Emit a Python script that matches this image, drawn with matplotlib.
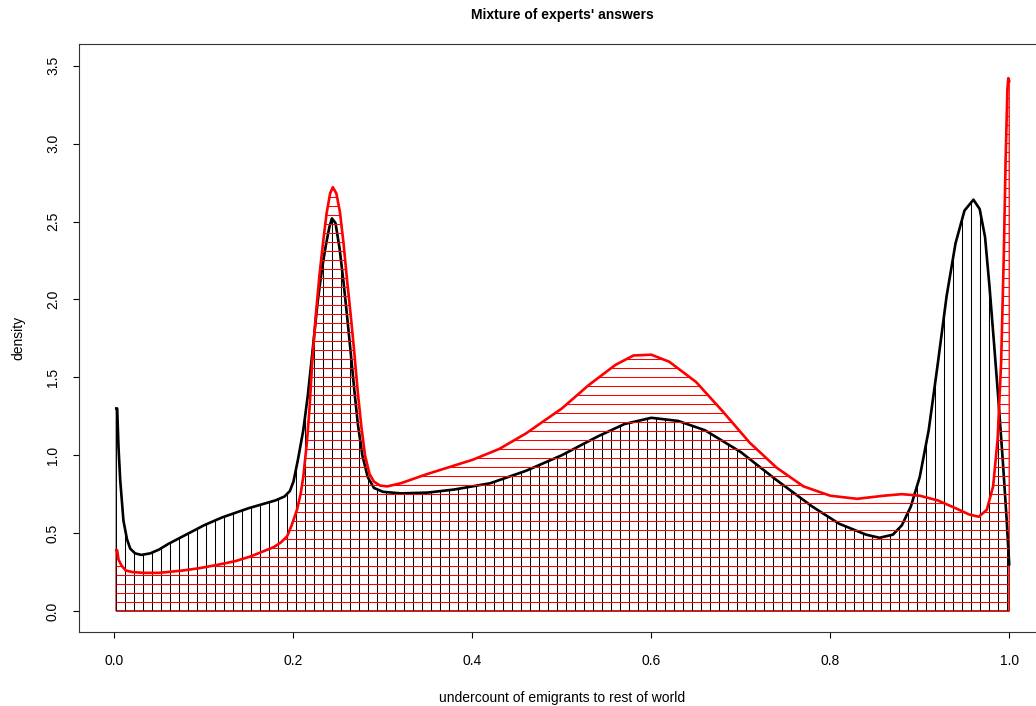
# Mixture of experts' answers - hatched density curves
import numpy as np
import matplotlib
matplotlib.use('Agg')
import matplotlib.pyplot as plt
from matplotlib.patches import Polygon

plt.rcParams['font.family'] = ['Liberation Sans', 'DejaVu Sans']

# black curve (mixture density)
black_x = [0.002, 0.003, 0.0045, 0.0064, 0.01, 0.014, 0.0176, 0.023, 0.03, 0.04, 0.05,
           0.06, 0.08, 0.1, 0.12, 0.135, 0.15, 0.165, 0.18, 0.19, 0.196, 0.2, 0.205,
           0.211, 0.216, 0.221, 0.227, 0.232, 0.236, 0.24, 0.243, 0.247, 0.2515,
           0.256, 0.26, 0.264, 0.268, 0.272, 0.277, 0.283, 0.29, 0.3, 0.32, 0.35,
           0.38, 0.42, 0.46, 0.5, 0.54, 0.57, 0.6, 0.63, 0.66, 0.7, 0.74, 0.78,
           0.81, 0.84, 0.855, 0.87, 0.88, 0.89, 0.9, 0.91, 0.92, 0.93, 0.94, 0.95,
           0.96, 0.967, 0.973, 0.978, 0.983, 0.988, 0.993, 0.997, 1.0]
black_y = [1.30, 1.30, 1.05, 0.84, 0.58, 0.46, 0.40, 0.37, 0.36, 0.37, 0.395,
           0.43, 0.49, 0.55, 0.60, 0.63, 0.66, 0.685, 0.71, 0.735, 0.77, 0.83, 0.97,
           1.16, 1.38, 1.65, 1.98, 2.20, 2.34, 2.46, 2.52, 2.49, 2.33,
           2.11, 1.89, 1.66, 1.42, 1.20, 1.00, 0.86, 0.79, 0.765, 0.755, 0.76,
           0.78, 0.82, 0.90, 1.00, 1.12, 1.20, 1.24, 1.22, 1.16, 1.02, 0.84, 0.67,
           0.56, 0.49, 0.47, 0.49, 0.55, 0.67, 0.86, 1.16, 1.58, 2.02, 2.36, 2.57,
           2.64, 2.58, 2.40, 2.08, 1.72, 1.35, 0.95, 0.60, 0.30]

# red curve (alternative density)
red_x = [0.002, 0.003, 0.0045, 0.008, 0.0127, 0.02, 0.032, 0.05, 0.0765, 0.095,
         0.114, 0.135, 0.152, 0.165, 0.178, 0.186, 0.193, 0.198, 0.204, 0.208,
         0.211, 0.215, 0.218, 0.221, 0.225, 0.229, 0.233, 0.237, 0.241, 0.244,
         0.248, 0.252, 0.256, 0.26, 0.264, 0.268, 0.272, 0.276, 0.28, 0.285,
         0.29, 0.297, 0.305, 0.32, 0.35, 0.4, 0.43, 0.46, 0.5, 0.53, 0.56, 0.58,
         0.6, 0.62, 0.65, 0.68, 0.71, 0.74, 0.77, 0.8, 0.83, 0.86, 0.88, 0.9,
         0.92, 0.94, 0.955, 0.966, 0.975, 0.982, 0.987, 0.991, 0.994, 0.996,
         0.998, 0.999, 1.0]
red_y = [0.39, 0.39, 0.33, 0.29, 0.26, 0.25, 0.245, 0.245, 0.26, 0.275,
         0.295, 0.32, 0.35, 0.38, 0.41, 0.44, 0.48, 0.55, 0.65, 0.75,
         0.86, 1.08, 1.30, 1.60, 1.90, 2.15, 2.36, 2.55, 2.68, 2.72,
         2.68, 2.56, 2.36, 2.12, 1.90, 1.66, 1.40, 1.18, 1.00, 0.88,
         0.83, 0.805, 0.80, 0.82, 0.88, 0.97, 1.04, 1.14, 1.30, 1.45, 1.58, 1.64,
         1.645, 1.60, 1.47, 1.28, 1.08, 0.92, 0.80, 0.74, 0.72, 0.74, 0.75, 0.74,
         0.71, 0.66, 0.62, 0.605, 0.65, 0.80, 1.10, 1.60, 2.30, 2.90,
         3.35, 3.42, 3.40]

x_ticks = [0.0, 0.2, 0.4, 0.6, 0.8, 1.0]
y_ticks = [0.0, 0.5, 1.0, 1.5, 2.0, 2.5, 3.0, 3.5]

W, H = 1036, 706
fig = plt.figure(figsize=(W / 100, H / 100), dpi=100)
ax = fig.add_axes([78.7 / W, (H - 632) / H, (1045 - 78.7) / W, (632 - 44) / H])
ax.set_xlim(-0.04, 1.04)
ax.set_ylim(-21 / 155.8, (611 - 44) / 155.8)

def hatched(xs, ys, color, vertical, lw_curve):
    verts = [(xs[0], 0)] + list(zip(xs, ys)) + [(xs[-1], 0)]
    poly = Polygon(verts, closed=True, facecolor='none', edgecolor=color, lw=0.9)
    ax.add_patch(poly)
    if vertical:
        step = 9 / 894.7
        pos = np.arange(xs[0], xs[-1] + 1e-9, step)
        lines = ax.vlines(pos, 0, max(ys) + 0.1, colors=color, lw=0.75)
    else:
        step = 9 / 155.8
        pos = np.arange(0, max(ys) + step, step)
        lines = ax.hlines(pos, xs[0], xs[-1], colors=color, lw=0.75)
    lines.set_clip_path(poly)
    ax.plot(xs, ys, color=color, lw=lw_curve, solid_joinstyle='round')

hatched(black_x, black_y, 'black', True, 1.9)
hatched(red_x, red_y, '#ff0000', False, 1.9)

ax.set_xticks(x_ticks)
ax.set_xticklabels(['%.1f' % v for v in x_ticks])
ax.set_yticks(y_ticks)
ax.set_yticklabels(['%.1f' % v for v in y_ticks], rotation=90, va='center')
ax.tick_params(axis='x', direction='out', length=4.5, width=0.8, labelsize=10, pad=11)
ax.tick_params(axis='y', direction='out', length=4.5, width=0.8, labelsize=10, pad=9)
for s in ax.spines.values():
    s.set_linewidth(0.8)
    s.set_color('#333333')

fig.text(562 / W, 1 - 15 / H, "Mixture of experts' answers", ha='center', va='center',
         fontsize=10, fontweight='bold')
fig.text(562 / W, 1 - 698 / H, 'undercount of emigrants to rest of world', ha='center',
         va='center', fontsize=10)
fig.text(18 / W, 1 - 338 / H, 'density', ha='center', va='center', rotation=90, fontsize=10)

fig.savefig('out.png', dpi=100)
